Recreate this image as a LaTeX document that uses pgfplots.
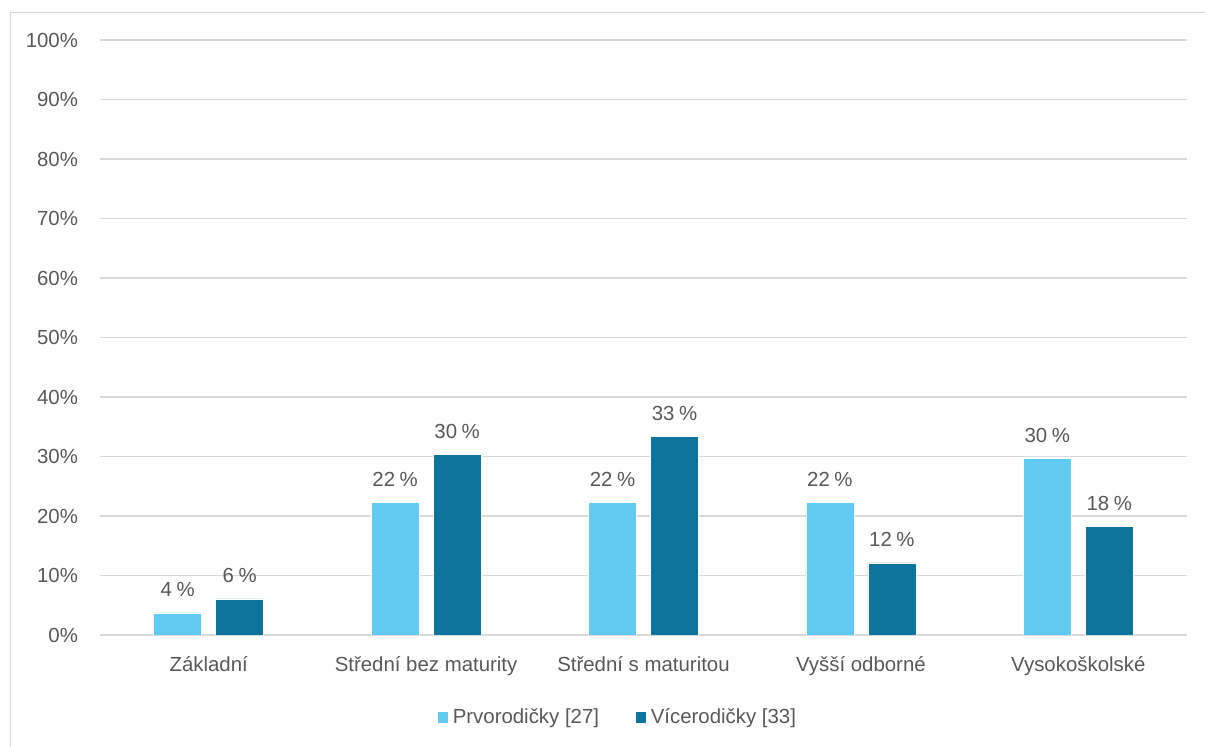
\documentclass[border=0pt]{standalone}
\usepackage{pgfplots}
\pgfplotsset{compat=1.18}
\usepackage{fontspec}
\setmainfont{Liberation Sans}
\definecolor{lightb}{HTML}{61CBF3}
\definecolor{darkb}{HTML}{0E749E}
\definecolor{gridc}{HTML}{D9D9D9}
\definecolor{txt}{HTML}{595959}
\definecolor{framec}{HTML}{D9D9D9}
\begin{document}
\begin{tikzpicture}
\path[use as bounding box] (0pt,0pt) rectangle (602.5pt,373.5pt);
\draw[framec, line width=0.8pt] (5.2pt,0pt) -- (5.2pt,367.3pt) -- (602.5pt,367.3pt);
\begin{axis}[
  at={(50pt,56pt)}, anchor=south west,
  scale only axis, width=543.5pt, height=297.5pt,
  xmin=-0.5, xmax=4.5, ymin=0, ymax=100,
  ytick={0,10,...,100},
  yticklabel={\pgfmathprintnumber{\tick}\%},
  /pgf/number format/assume math mode=true,
  xtick={0,1,2,3,4},
  xticklabels={Základní,Střední bez maturity,Střední s maturitou,Vyšší odborné,Vysokoškolské},
  axis line style={draw=none},
  ymajorgrids, grid style={gridc, line width=0.8pt},
  major tick length=0pt,
  tick label style={font=\fontsize{10.2}{12}\selectfont, text=txt},
  yticklabel style={xshift=-7.5pt},
  xticklabel style={yshift=-7pt},
  ybar, bar width=24pt,
  nodes near coords={\pgfmathprintnumber[fixed,precision=0]{\pgfplotspointmeta}\hspace{0.22em}\%},
  every node near coord/.append style={font=\fontsize{10.2}{12}\selectfont, text=txt, anchor=south, yshift=4.5pt},
  legend style={at={(0.477,-0.138)}, anchor=center, draw=none, font=\fontsize{10.2}{12}\selectfont, text=txt, legend columns=2, /tikz/every even column/.append style={column sep=16pt}},
  legend image code/.code={\fill[#1] (0pt,-3pt) rectangle (5.5pt,3pt);},
]
\addplot[fill=lightb, draw=white, line width=0.4pt, bar shift=-15.5pt] coordinates {(0,3.7) (1,22.2) (2,22.2) (3,22.2) (4,29.6)};
\addlegendentry{Prvorodičky [27]}
\addplot[fill=darkb, draw=white, line width=0.4pt, bar shift=15.5pt] coordinates {(0,6.06) (1,30.3) (2,33.3) (3,12.1) (4,18.2)};
\addlegendentry{Vícerodičky [33]}
\end{axis}
\end{tikzpicture}
\end{document}
